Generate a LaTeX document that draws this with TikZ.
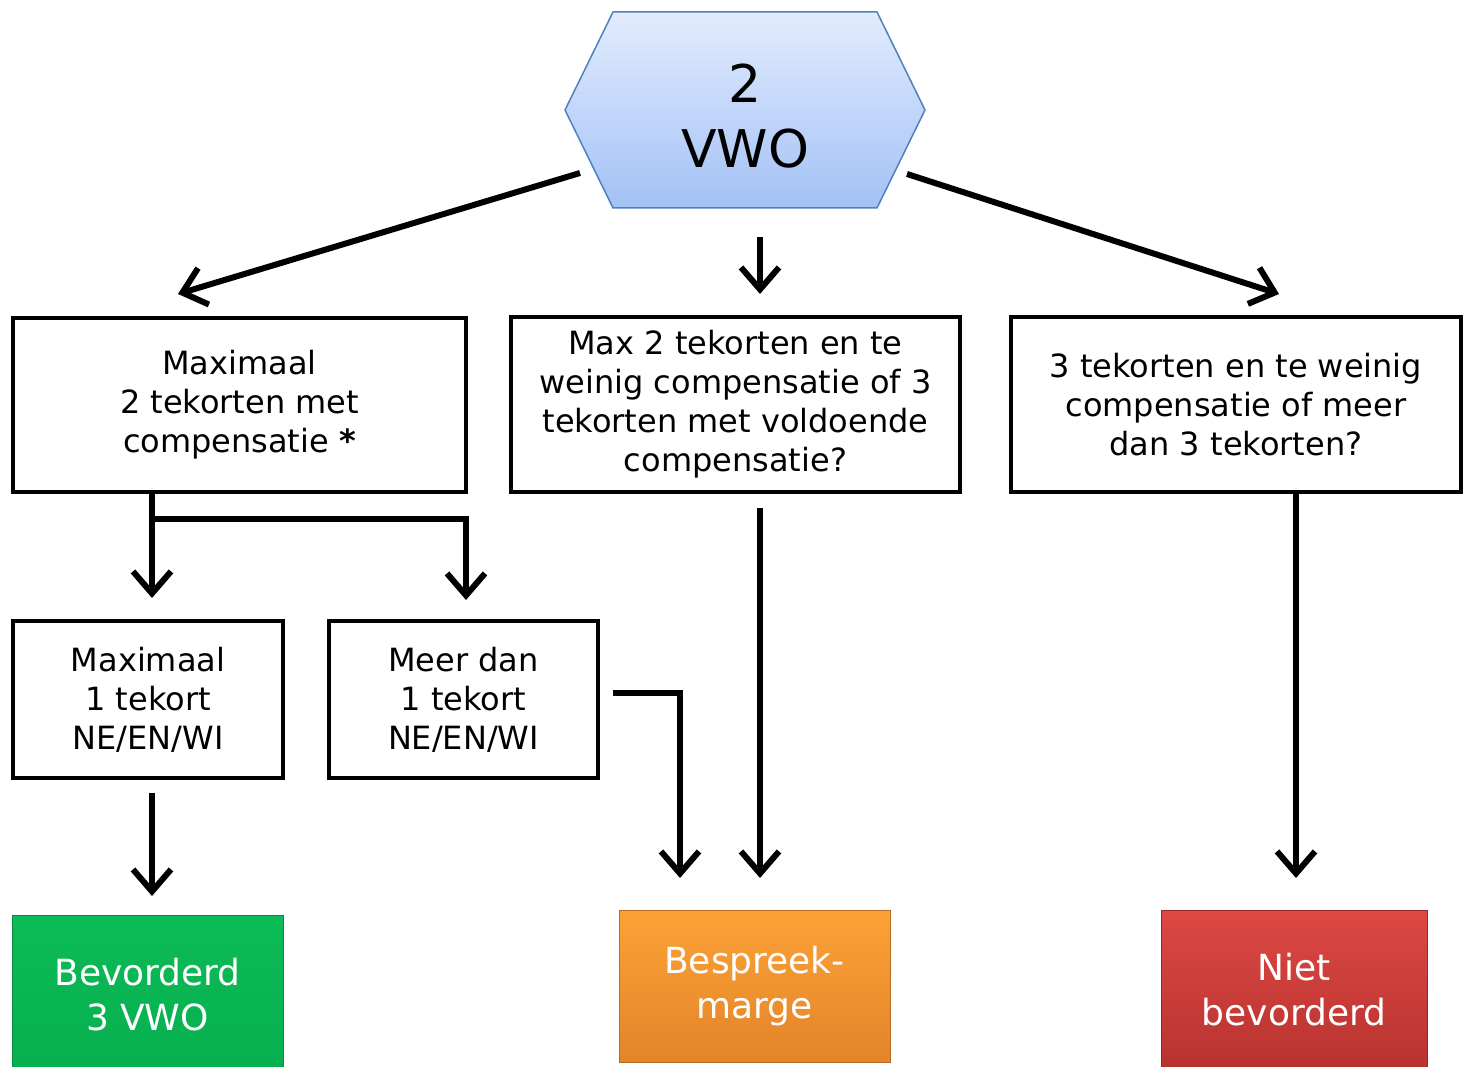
\documentclass[tikz,border=0pt]{standalone}
\usepackage{fontspec}
\setmainfont{DejaVu Sans}
\usetikzlibrary{arrows.meta}

\definecolor{hexline}{HTML}{4F81BD}
\definecolor{hextop}{HTML}{E2ECFD}
\definecolor{hexbot}{HTML}{A3C1F6}
\definecolor{greentop}{HTML}{0CBB56}
\definecolor{greenbot}{HTML}{06AF4F}
\definecolor{orangetop}{HTML}{FCA236}
\definecolor{orangebot}{HTML}{E3842A}
\definecolor{redtop}{HTML}{DD4843}
\definecolor{redbot}{HTML}{B8322F}

\begin{document}
\begin{tikzpicture}[x=1pt,y=-1pt,
every node/.style={align=center,inner sep=0pt},
box/.style={draw,line width=4pt,font=\fontsize{32}{39}\selectfont},
endbox/.style={line width=1pt,text=white,font=\fontsize{36}{45}\selectfont},
arr/.style={line width=6pt,-{Straight Barb[length=22pt,width=38pt,line width=6pt]}}]

\useasboundingbox (0,0) rectangle (1472,1067);

% start
\shadedraw[draw=hexline,line width=1.5pt,top color=hextop,bottom color=hexbot]
  (565,110) -- (613,12) -- (877,12) -- (925,110) -- (877,208) -- (613,208) -- cycle;
\node[font=\fontsize{52}{65}\selectfont] (start) at (745,116) {2\\VWO};

% questions
\node[box,minimum width=453,minimum height=174] (maxtwo) at (239.5,405)
  {Maximaal\\2 tekorten met\\compensatie \textbf{*}};
\node[box,minimum width=449,minimum height=175] (maxthree) at (735.5,404.5)
  {Max 2 tekorten en te\\weinig compensatie of 3\\tekorten met voldoende\\compensatie?};
\node[box,minimum width=450,minimum height=175] (more) at (1236,404.5)
  {3 tekorten en te weinig\\compensatie of meer\\dan 3 tekorten?};
\node[box,minimum width=270,minimum height=157] (maxone) at (148,699.5)
  {Maximaal\\1 tekort\\NE/EN/WI};
\node[box,minimum width=269,minimum height=157] (moreone) at (463.5,699.5)
  {Meer dan\\1 tekort\\NE/EN/WI};

% results
\node[endbox,draw=greenbot!80!black,top color=greentop,bottom color=greenbot,
  minimum width=271,minimum height=160] (pass) at (147.5,995) {Bevorderd\\3 VWO};
\node[endbox,draw=orangebot!80!black,top color=orangetop,bottom color=orangebot,
  minimum width=271,minimum height=152] (talk) at (754.5,986) {Bespreek-\\marge};
\node[endbox,draw=redbot!80!black,top color=redtop,bottom color=redbot,
  minimum width=266,minimum height=160] (fail) at (1294,990) {Niet\\bevorderd};

% arrow ends
\coordinate (s-l) at (580,173);
\coordinate (s-m) at (760,237);
\coordinate (s-r) at (907,174);
\coordinate (in-two) at (178,294);
\coordinate (in-three) at (760,294);
\coordinate (in-more) at (1279,294);
\coordinate (two-out) at (152,492);
\coordinate (split) at (152,519);
\coordinate (in-one) at (152,598);
\coordinate (in-moreone) at (466,600);
\coordinate (one-out) at (152,793);
\coordinate (in-pass) at (152,896);
\coordinate (moreone-out) at (613,693);
\coordinate (in-talk-a) at (680,878);
\coordinate (three-out) at (760,508);
\coordinate (in-talk-b) at (760,878);
\coordinate (more-out) at (1296,492);
\coordinate (in-fail) at (1296,878);

\draw[arr] (s-l) -- (in-two);
\draw[arr] (s-m) -- (in-three);
\draw[arr] (s-r) -- (in-more);
\draw[arr] (two-out) -- (in-one);
\draw[arr] (split) -| (in-moreone);
\draw[arr] (one-out) -- (in-pass);
\draw[arr] (moreone-out) -| (in-talk-a);
\draw[arr] (three-out) -- (in-talk-b);
\draw[arr] (more-out) -- (in-fail);
\end{tikzpicture}
\end{document}
